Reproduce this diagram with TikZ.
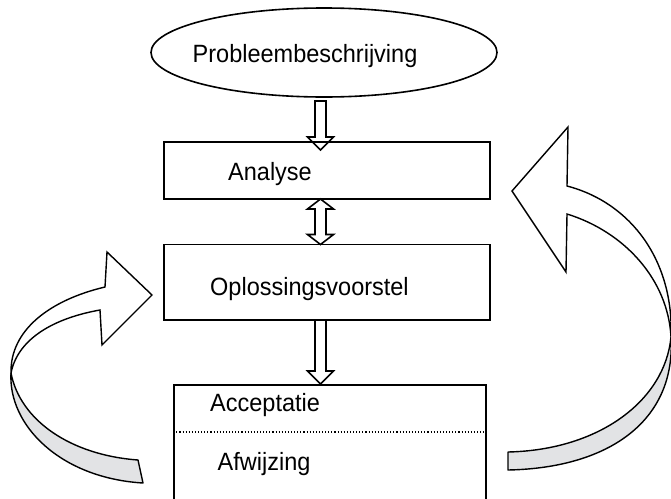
\documentclass[tikz,border=0pt]{standalone}
\usepackage{fontspec}
\setmainfont{Liberation Sans}[FakeStretch=0.94]
\usetikzlibrary{calc,shapes.geometric}
\tikzset{
  box/.style={draw=black, line width=1.6pt, rectangle, inner sep=0pt},
  lbl/.style={anchor=base west, inner sep=0pt, font=\fontsize{25}{30}\selectfont},
  blk/.style={draw=black, line width=1.6pt, line join=miter},
  curvw/.style={draw=black, line width=1.4pt, fill=white, line join=miter},
  curvg/.style={draw=black, line width=1.4pt, fill=ribbongray, line join=round},
}
\definecolor{ribbongray}{RGB}{226,227,229}
\newcommand\blkdown[2]{%
  \draw[blk] ($(#1)+(-5.5,0)$) -- ($(#2)+(-5.5,-13)$) -- ($(#2)+(-13,-13)$) -- (#2)
    -- ($(#2)+(13,-13)$) -- ($(#2)+(5.5,-13)$) -- ($(#1)+(5.5,0)$) -- cycle;}
\begin{document}
\begin{tikzpicture}[x=1pt, y=-1pt]
\useasboundingbox (0,0) rectangle (671,498);
% nodes
\node[draw=black, line width=1.6pt, ellipse, minimum width=346pt, minimum height=89pt, inner sep=0pt] (ell) at (324,52.5) {};
\node[box, minimum width=326pt, minimum height=56.5pt] (ana) at (327,170.5) {};
\node[box, minimum width=326pt, minimum height=75.5pt] (opl) at (327,282.25) {};
\node[box, minimum width=312pt, minimum height=120pt, anchor=north] (acc) at (330,384) {};
\draw[line width=1.1pt, dotted] ($(acc.north west)+(0,48)$) -- ($(acc.north east)+(0,48)$);
% texts
\node[lbl] (tP) at (192.5,62.5) {Probleembeschrijving};
\node[lbl] (tA) at (228,180) {Analyse};
\node[lbl] (tO) at (210,295) {Oplossingsvoorstel};
\node[lbl] (tAc) at (210,411.5) {Acceptatie};
\node[lbl] (tAf) at (217.5,470) {Afwijzing};
% block arrows
\coordinate (a1top) at (320.5,101);
\coordinate (a1tip) at (320.5,150);
\blkdown{a1top}{a1tip}
\coordinate (a2top) at (320.5,199);
\coordinate (a2bot) at (320.5,244.5);
\draw[blk] (a2top) -- ($(a2top)+(13,10)$) -- ($(a2top)+(5.5,10)$) -- ($(a2bot)+(5.5,-10)$)
  -- ($(a2bot)+(13,-10)$) -- (a2bot) -- ($(a2bot)+(-13,-10)$) -- ($(a2bot)+(-5.5,-10)$)
  -- ($(a2top)+(-5.5,10)$) -- ($(a2top)+(-13,10)$) -- cycle;
\coordinate (a3top) at (320.5,320);
\coordinate (a3tip) at (320.5,384);
\blkdown{a3top}{a3tip}
% left curved arrow
\draw[curvg] (11,373) .. controls (20,420) and (70,455) .. (138,460) -- (143,483)
  .. controls (60,478) and (8,425) .. (11,373) -- cycle;
\draw[curvw] (11,373) .. controls (10,330) and (50,300) .. (105,287) -- (107,252) -- (152,295)
  -- (102,345) -- (100,310) .. controls (55,318) and (18,338) .. (11,373) -- cycle;
% right curved arrow
\draw[curvg] (671,337) .. controls (665,400) and (600,450) .. (508,452) -- (508,470)
  .. controls (610,468) and (676,420) .. (671,337) -- cycle;
\draw[curvw] (671,337) .. controls (674,262) and (632,203) .. (567,186) -- (568,127) -- (512,191)
  -- (566,272) -- (567,214) .. controls (625,232) and (668,280) .. (671,337) -- cycle;
\end{tikzpicture}
\end{document}
